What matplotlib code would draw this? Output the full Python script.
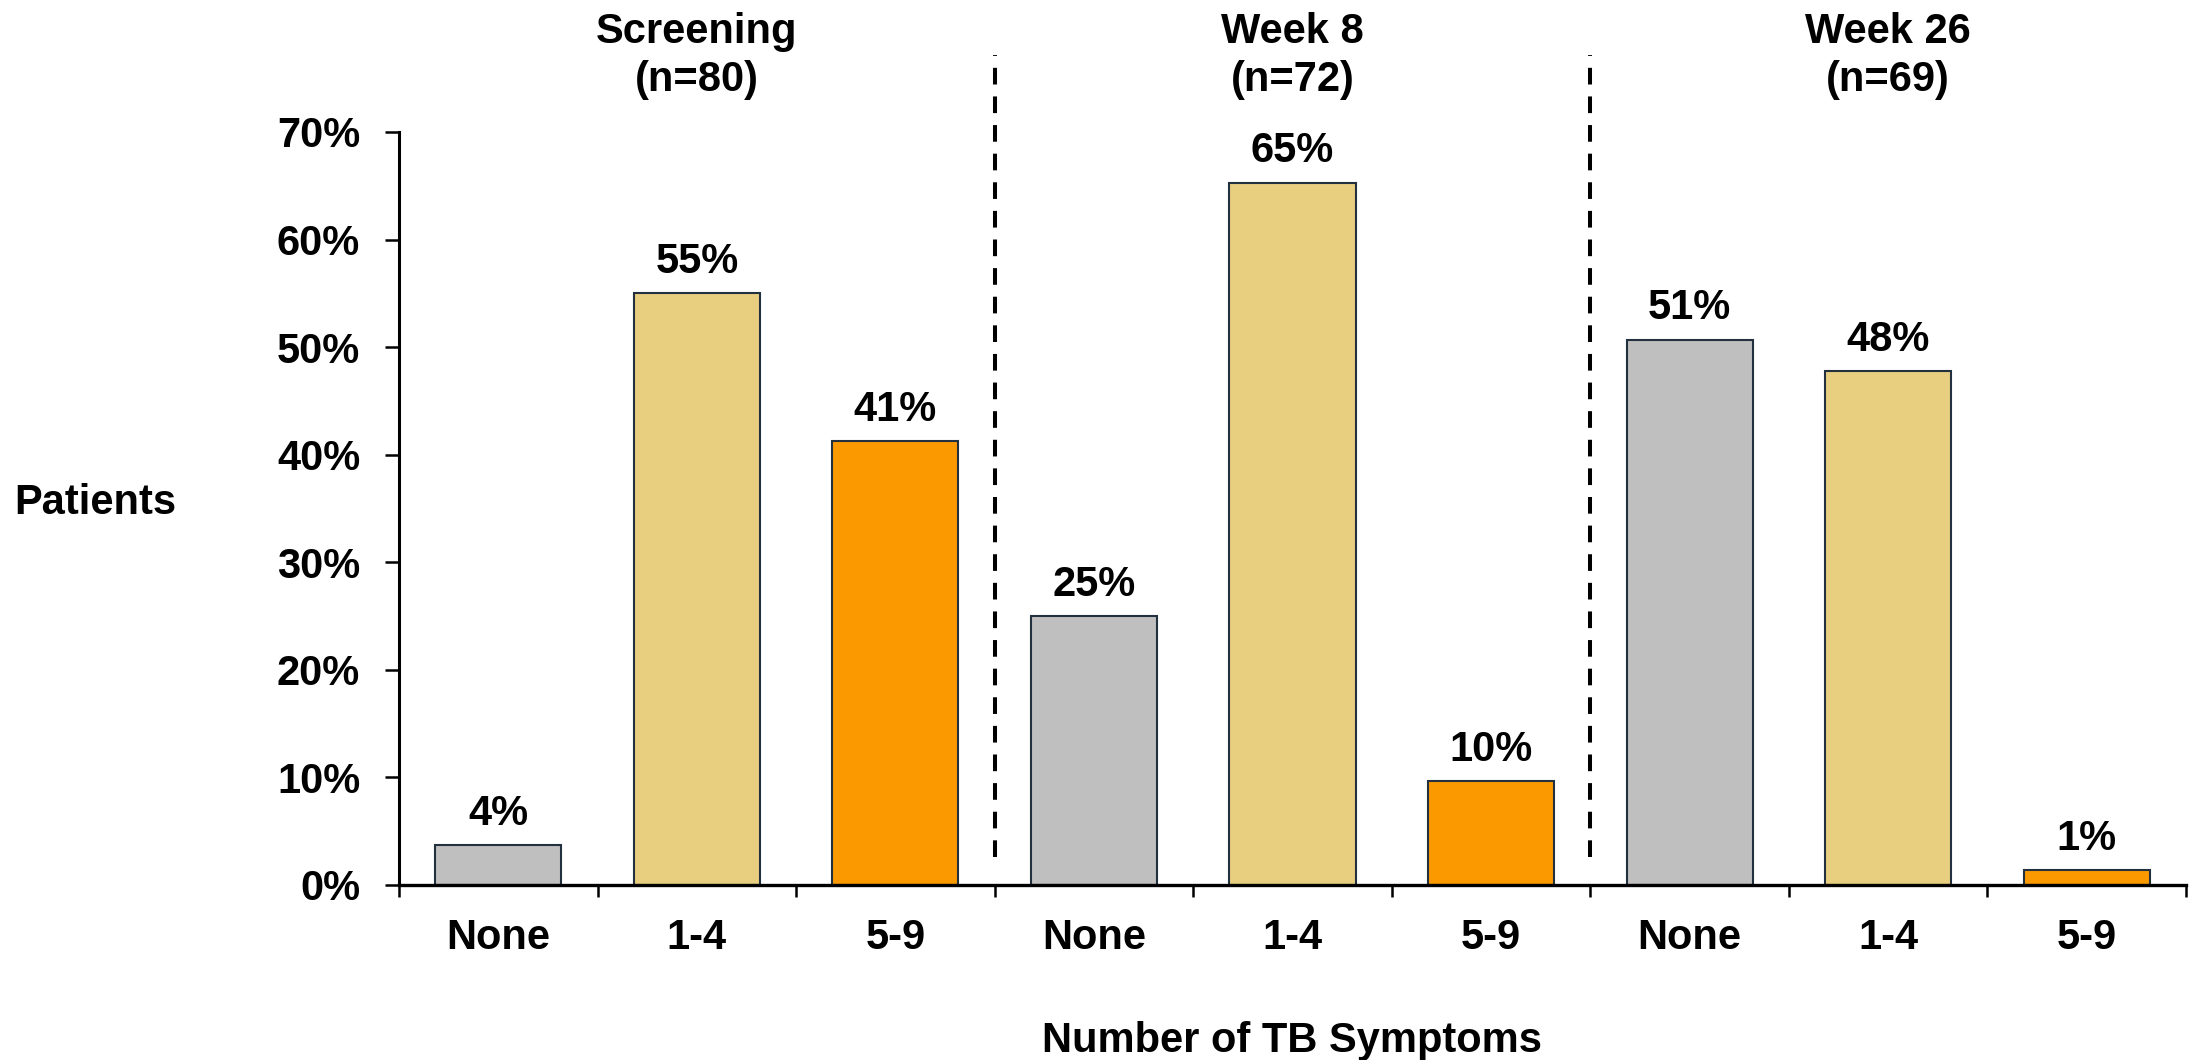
import matplotlib
matplotlib.use("Agg")
import matplotlib.pyplot as plt
from matplotlib.transforms import blended_transform_factory

plt.rcParams['font.family'] = ['Liberation Sans', 'DejaVu Sans']
plt.rcParams['font.weight'] = 'bold'
plt.rcParams['lines.scale_dashes'] = False

# Visits and number of patients at each visit
visits = ["Screening", "Week 8", "Week 26"]
n_patients = [80, 72, 69]
symptom_groups = ["None", "1-4", "5-9"]

# Percentage of patients in each symptom group, per visit
pct_screening = [3.75, 55.0, 41.25]
pct_week8 = [25.0, 65.3, 9.7]
pct_week26 = [50.7, 47.8, 1.4]

group_colors = ["#BFBFBF", "#E8CF80", "#FB9A00"]
edge_color = "#22303F"
FS = 30

fig = plt.figure(figsize=(21.9, 10.6), dpi=100)
ax = fig.add_axes([0.1822, 0.1651, 0.8160, 0.7104])

all_pcts = [pct_screening, pct_week8, pct_week26]
positions, heights, colors, labels = [], [], [], []
for g, pcts in enumerate(all_pcts):
    for k, v in enumerate(pcts):
        positions.append(g * 3 + k)
        heights.append(v)
        colors.append(group_colors[k])
        labels.append(symptom_groups[k])

bars = ax.bar(positions, heights, width=0.635, color=colors,
              edgecolor=edge_color, linewidth=1.5, zorder=2)

for x, v in zip(positions, heights):
    ax.annotate(f"{v:.0f}%", xy=(x, v), xytext=(0, 8),
                textcoords="offset points", ha="center", va="bottom",
                fontsize=FS, fontweight="bold")

ax.set_xlim(-0.5, 8.5)
ax.set_ylim(0, 70)

# y axis
ax.set_yticks(range(0, 71, 10))
ax.set_yticklabels([f"{t}%" for t in range(0, 71, 10)])
ax.tick_params(axis="y", which="major", length=10, width=1.8, pad=18,
               labelsize=FS, direction="out")

# x axis: boundary ticks (major) and centred category labels (minor)
ax.set_xticks([i - 0.5 for i in range(10)])
ax.set_xticklabels([])
ax.tick_params(axis="x", which="major", length=8.5, width=1.8, direction="out")
ax.set_xticks(positions, minor=True)
ax.set_xticklabels(labels, minor=True)
ax.tick_params(axis="x", which="minor", length=0, pad=24, labelsize=FS)

for side in ["top", "right"]:
    ax.spines[side].set_visible(False)
ax.spines["left"].set_linewidth(2.2)
ax.spines["bottom"].set_linewidth(2.4)
ax.spines["bottom"].set_zorder(3)

# dashed separators between visits
for xs in [2.5, 5.5]:
    ax.plot([xs, xs], [2.6, 77.2], color="black", linewidth=2.9,
            linestyle=(0, (12, 8.6)), solid_capstyle="butt",
            dash_capstyle="butt", clip_on=False, zorder=1)

# visit headers
trans = blended_transform_factory(ax.transData, fig.transFigure)
for g, (name, n) in enumerate(zip(visits, n_patients)):
    ax.text(g * 3 + 1, 0.947, f"{name}\n(n={n})", transform=trans,
            ha="center", va="center", fontsize=FS, fontweight="bold",
            linespacing=1.25)

fig.text(14 / 2190, 1 - 503 / 1060, "Patients", ha="left", va="center",
         fontsize=FS, fontweight="bold")
fig.text(1292 / 2190, 1 - 1041 / 1060, "Number of TB Symptoms", ha="center",
         va="center", fontsize=FS, fontweight="bold")

fig.savefig("out.png", dpi=100)
